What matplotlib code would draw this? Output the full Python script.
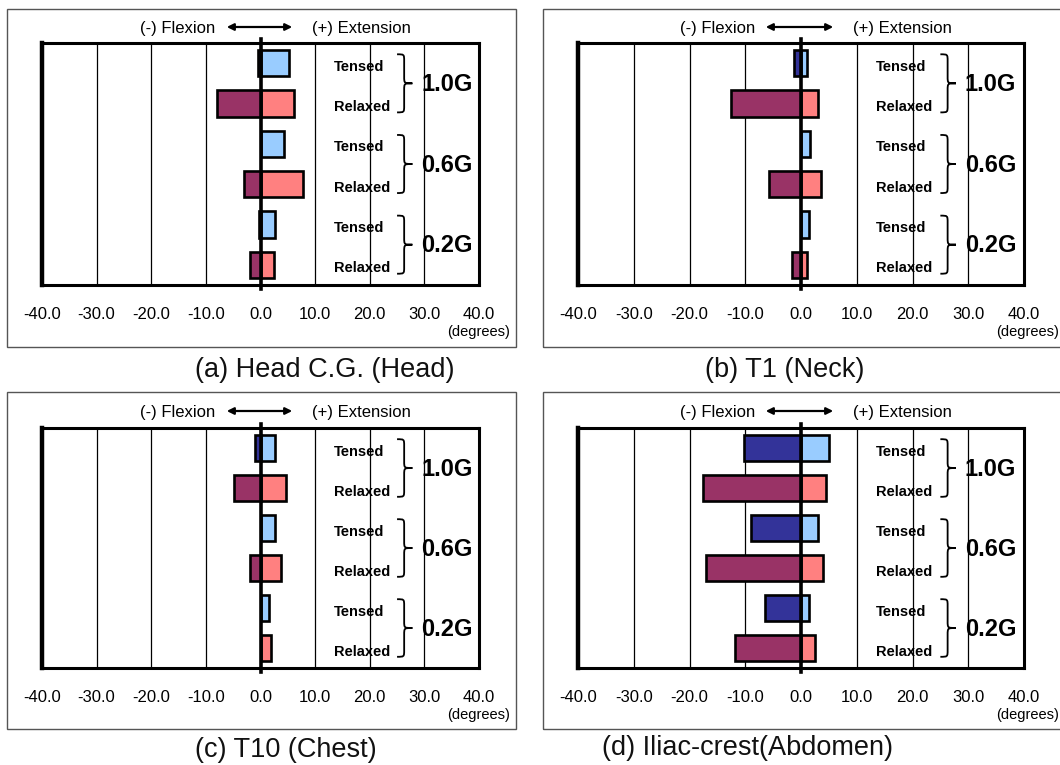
import numpy as np
import matplotlib
matplotlib.use("Agg")
import matplotlib.pyplot as plt
from matplotlib.path import Path
from matplotlib.patches import PathPatch, Rectangle, FancyArrowPatch

plt.rcParams['font.family'] = ['Liberation Sans', 'DejaVu Sans']

W, H = 1060, 765

# rows top to bottom: 1.0G tensed/relaxed, 0.6G ..., 0.2G ...
conditions = ['Tensed', 'Relaxed', 'Tensed', 'Relaxed', 'Tensed', 'Relaxed']
g_levels = ['1.0G', '0.6G', '0.2G']
xticks = [-40, -30, -20, -10, 0, 10, 20, 30, 40]

head_flex = [-0.4, -7.9, 0.0, -3.0, -0.3, -1.9]
head_ext = [5.2, 6.2, 4.3, 7.7, 2.7, 2.4]
t1_flex = [-1.2, -12.5, 0.0, -5.7, 0.0, -1.6]
t1_ext = [1.0, 3.1, 1.7, 3.5, 1.4, 1.0]
t10_flex = [-1.0, -4.8, 0.0, -1.9, 0.0, 0.0]
t10_ext = [2.7, 4.6, 2.7, 3.7, 1.6, 2.0]
iliac_flex = [-10.2, -17.5, -8.9, -17.1, -6.4, -11.9]
iliac_ext = [5.0, 4.5, 3.1, 4.0, 1.5, 2.6]

titles = ['(a) Head C.G. (Head)', '(b) T1 (Neck)', '(c) T10 (Chest)', '(d) Iliac-crest(Abdomen)']

dark = {'Tensed': '#333399', 'Relaxed': '#993366'}
light = {'Tensed': '#99CCFF', 'Relaxed': '#FF8080'}


def fx(x):
    return x / W


def fy(y):
    return 1 - y / H


fig = plt.figure(figsize=(W / 100, H / 100), dpi=100)


def brace(ax, y0, y1, xa, xb, xc, r=0.17):
    ym = (y0 + y1) / 2
    verts = [(xa, y0), (xb, y0), (xb, y0), (xb, y0 + r),
             (xb, ym - r),
             (xb, ym), (xb, ym), (xc, ym),
             (xb, ym), (xb, ym), (xb, ym + r),
             (xb, y1 - r),
             (xb, y1), (xb, y1), (xa, y1)]
    codes = [Path.MOVETO, Path.CURVE4, Path.CURVE4, Path.CURVE4,
             Path.LINETO,
             Path.CURVE4, Path.CURVE4, Path.CURVE4,
             Path.CURVE4, Path.CURVE4, Path.CURVE4,
             Path.LINETO,
             Path.CURVE4, Path.CURVE4, Path.CURVE4]
    ax.add_patch(PathPatch(Path(verts, codes), fill=False, lw=1.3,
                           color='black', clip_on=False, zorder=6))


def panel(box, axbox, flex, ext, title, tpos, head_y, hx):
    # outer grey frame
    bx0, by0, bx1, by1 = box
    fig.patches.append(Rectangle((fx(bx0), fy(by1)), (bx1 - bx0) / W, (by1 - by0) / H,
                                 transform=fig.transFigure, fill=False,
                                 edgecolor='#555555', lw=1.0))
    x0, y0, x1, y1 = axbox
    ax = fig.add_axes([fx(x0), fy(y1), (x1 - x0) / W, (y1 - y0) / H])
    rows = np.arange(len(conditions))
    for i in rows:
        c = conditions[i]
        ax.barh(i, flex[i], height=0.66, color=dark[c], edgecolor='black', lw=1.9, zorder=3)
        ax.barh(i, ext[i], height=0.66, color=light[c], edgecolor='black', lw=1.9, zorder=3)
    ax.axvline(0, ymin=-0.015, ymax=1.015, color='black', lw=2.6, zorder=7, clip_on=False)
    for v in xticks[1:-1]:
        if v != 0:
            ax.axvline(v, color='black', lw=0.9, zorder=1)
    ax.set_xlim(-40, 40)
    ax.set_ylim(5.5, -0.5)
    ax.set_yticks([])
    ax.set_xticks(xticks)
    ax.set_xticklabels(['%.1f' % v for v in xticks], fontsize=12)
    ax.tick_params(axis='x', length=0, pad=16)
    for s in ax.spines.values():
        s.set_linewidth(2.2)
    ax.spines['left'].set_linewidth(3.2)

    for i in rows:
        ax.text(13.4, i + 0.09, conditions[i], fontsize=10.5, fontweight='bold',
                ha='left', va='center', zorder=2)
    for k, g in enumerate(g_levels):
        brace(ax, 2 * k - 0.22, 2 * k + 1.22, 25.0, 26.3, 27.8)
        ax.text(29.4, 2 * k + 0.53, g, fontsize=17, fontweight='bold',
                ha='left', va='center', zorder=2)

    # flexion / extension header
    fl_end, ar0, ar1, ex_start = hx
    fig.text(fx(fl_end), fy(head_y), '(-) Flexion', fontsize=12, ha='right', va='center')
    fig.text(fx(ex_start), fy(head_y), '(+) Extension', fontsize=12, ha='left', va='center')
    fig.add_artist(FancyArrowPatch(
        (fx(ar0), fy(head_y - 1)), (fx(ar1), fy(head_y - 1)), transform=fig.transFigure,
        arrowstyle='<|-|>', mutation_scale=10, lw=1.6, color='black'))

    fig.text(fx(bx1 - 6 if bx1 < W else 1059), fy(y1 + 47), '(degrees)', fontsize=10.5,
             ha='right', va='center')
    fig.text(fx(tpos[0]), fy(tpos[1]), title, fontsize=19.5, ha='left', va='center',
             color='#111111')
    return ax


panel((7, 9, 516, 347), (42, 43, 479, 285), head_flex, head_ext, titles[0],
      (195, 370), 28, (215, 224, 295, 312))
panel((543, 9, 1075, 347), (578, 43, 1024, 285), t1_flex, t1_ext, titles[1],
      (705, 370), 28, (755, 763, 836, 853))
panel((7, 392, 516, 729), (42, 428, 479, 668), t10_flex, t10_ext, titles[2],
      (195, 750), 412, (215, 224, 295, 312))
panel((543, 392, 1075, 729), (578, 428, 1024, 668), iliac_flex, iliac_ext, titles[3],
      (602, 748), 412, (755, 763, 836, 853))

fig.savefig('out.png', dpi=100)
